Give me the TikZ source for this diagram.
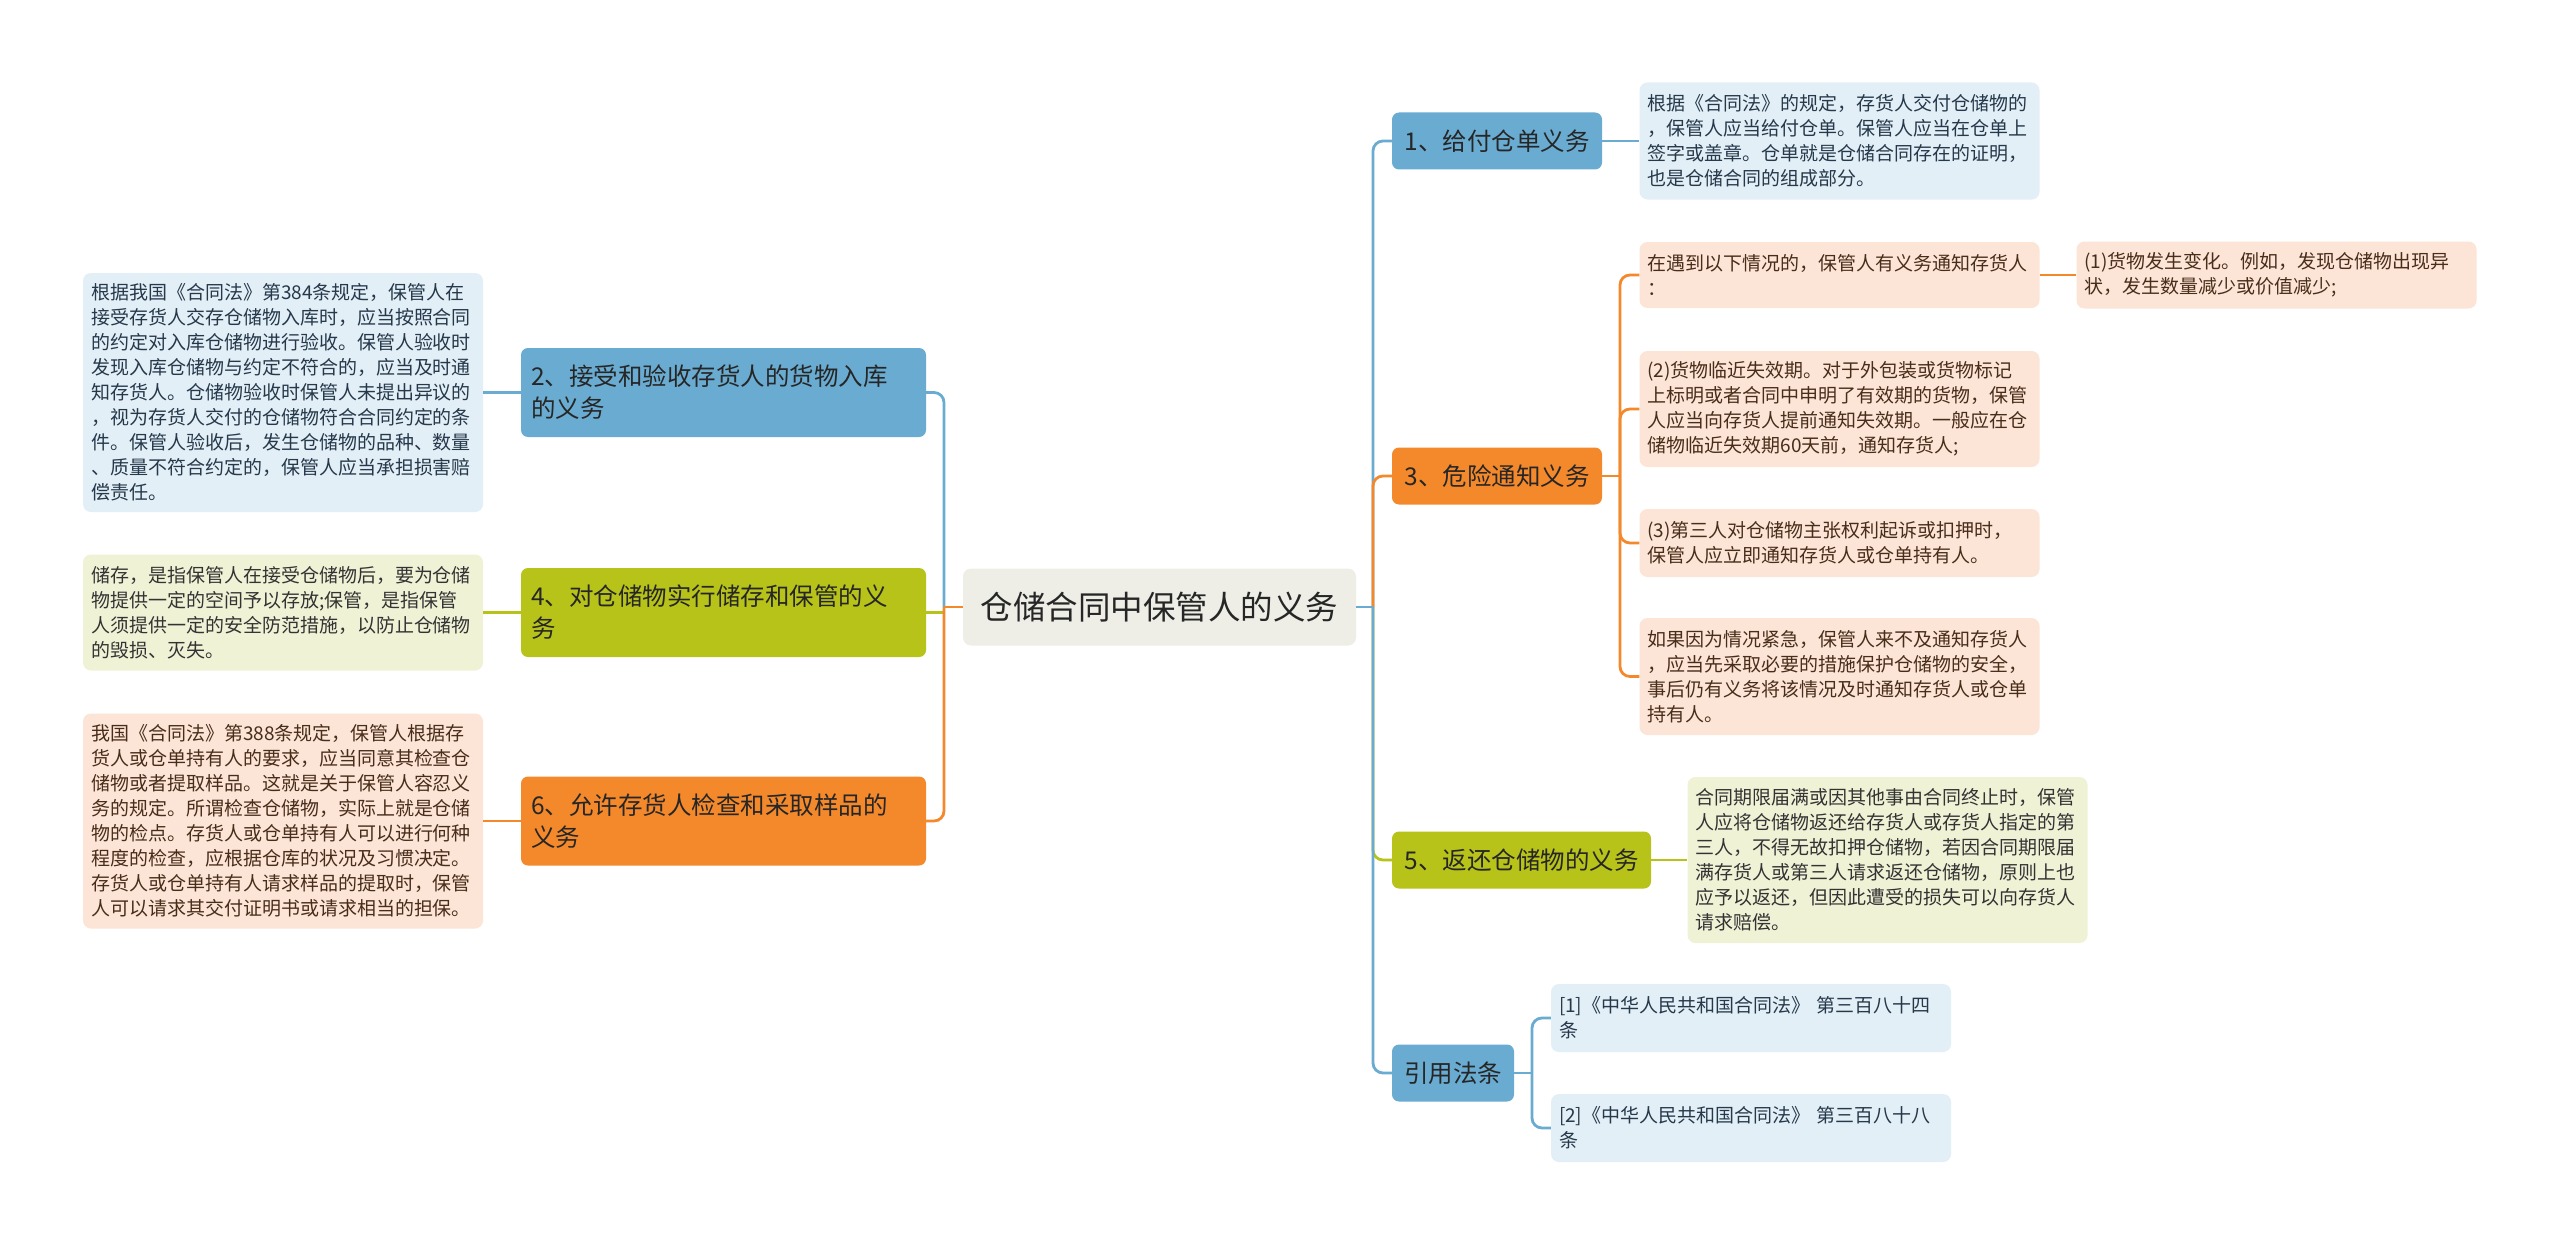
\documentclass[tikz,border=0pt]{standalone}
\usepackage{fontspec}
\setmainfont{Noto Sans CJK SC}

\definecolor{bblue}{RGB}{106,172,209}
\definecolor{borange}{RGB}{244,137,44}
\definecolor{bolive}{RGB}{184,195,26}
\definecolor{lblue}{RGB}{226,239,247}
\definecolor{lorange}{RGB}{252,229,214}
\definecolor{lolive}{RGB}{240,242,214}
\definecolor{rootgray}{RGB}{238,238,231}
\definecolor{tblue}{RGB}{38,56,74}
\definecolor{tbrown}{RGB}{72,46,26}

\tikzset{
  rootbox/.style={fill=rootgray, rounded corners=8pt, minimum width=393pt, minimum height=77pt,
    font=\fontsize{32.5}{38}\selectfont, text=black!85},
  branch/.style={rounded corners=7pt, minimum height=57pt, inner xsep=10pt,
    font=\fontsize{24.5}{32}\selectfont, text=black!85},
  branchtwo/.style={branch, text width=385pt, align=left, minimum height=89pt},
  leaf/.style={rounded corners=8pt, text width=384pt, inner xsep=8pt, align=left,
    font=\fontsize{19}{25}\selectfont},
  link/.style={line width=2.8pt},
  elbow/.style={link, rounded corners=10pt},
}

\begin{document}
\begin{tikzpicture}[x=1pt,y=-1pt]
    \fill[white] (0,0) rectangle (2560,1244);
    \useasboundingbox (0,0) rectangle (2560,1244);

    \node[rootbox] (root) at (1159.5,607) {仓储合同中保管人的义务};

    % right side
    \node[branch, fill=bblue, minimum width=210pt] (b1) at (1497,141) {1、给付仓单义务};
    \node[branch, fill=borange, minimum width=210pt] (b3) at (1497,476) {3、危险通知义务};
    \node[branch, fill=bolive, minimum width=259pt] (b5) at (1521.5,860) {5、返还仓储物的义务};
    \node[branch, fill=bblue, minimum width=122pt] (b7) at (1453,1073) {引用法条};

    \node[leaf, fill=lblue, text=tblue, minimum height=117pt] (l1) at (1839.5,141)
        {根据《合同法》的规定，存货人交付仓储物的\\，保管人应当给付仓单。保管人应当在仓单上\\签字或盖章。仓单就是仓储合同存在的证明，\\也是仓储合同的组成部分。};
    \node[leaf, fill=lorange, text=tbrown, minimum height=66pt] (l3a) at (1839.5,275)
        {在遇到以下情况的，保管人有义务通知存货人\\：};
    \node[leaf, fill=lorange, text=tbrown, minimum height=67pt] (l3a1) at (2276.5,275)
        {(1)货物发生变化。例如，发现仓储物出现异\\状，发生数量减少或价值减少;};
    \node[leaf, fill=lorange, text=tbrown, minimum height=116pt] (l3b) at (1839.5,409)
        {(2)货物临近失效期。对于外包装或货物标记\\上标明或者合同中申明了有效期的货物，保管\\人应当向存货人提前通知失效期。一般应在仓\\储物临近失效期60天前，通知存货人;};
    \node[leaf, fill=lorange, text=tbrown, minimum height=68pt] (l3c) at (1839.5,543)
        {(3)第三人对仓储物主张权利起诉或扣押时，\\保管人应立即通知存货人或仓单持有人。};
    \node[leaf, fill=lorange, text=tbrown, minimum height=117pt] (l3d) at (1839.5,676.5)
        {如果因为情况紧急，保管人来不及通知存货人\\，应当先采取必要的措施保护仓储物的安全，\\事后仍有义务将该情况及时通知存货人或仓单\\持有人。};
    \node[leaf, fill=lolive, text=black!80, minimum height=166pt] (l5) at (1887.5,860)
        {合同期限届满或因其他事由合同终止时，保管\\人应将仓储物返还给存货人或存货人指定的第\\三人，不得无故扣押仓储物，若因合同期限届\\满存货人或第三人请求返还仓储物，原则上也\\应予以返还，但因此遭受的损失可以向存货人\\请求赔偿。};
    \node[leaf, fill=lblue, text=tblue, minimum height=68pt] (r1) at (1751,1018)
        {[1]《中华人民共和国合同法》 第三百八十四\\条};
    \node[leaf, fill=lblue, text=tblue, minimum height=68pt] (r2) at (1751,1128)
        {[2]《中华人民共和国合同法》 第三百八十八\\条};

    % left side
    \node[branchtwo, fill=bblue] (b2) at (723.5,392.5) {2、接受和验收存货人的货物入库\\的义务};
    \node[branchtwo, fill=bolive] (b4) at (723.5,612.5) {4、对仓储物实行储存和保管的义\\务};
    \node[branchtwo, fill=borange] (b6) at (723.5,821) {6、允许存货人检查和采取样品的\\义务};

    \node[leaf, fill=lblue, text=tblue, minimum height=239pt] (l2) at (283,392.5)
        {根据我国《合同法》第384条规定，保管人在\\接受存货人交存仓储物入库时，应当按照合同\\的约定对入库仓储物进行验收。保管人验收时\\发现入库仓储物与约定不符合的，应当及时通\\知存货人。仓储物验收时保管人未提出异议的\\，视为存货人交付的仓储物符合合同约定的条\\件。保管人验收后，发生仓储物的品种、数量\\、质量不符合约定的，保管人应当承担损害赔\\偿责任。};
    \node[leaf, fill=lolive, text=black!80, minimum height=116pt] (l4) at (283,612.5)
        {储存，是指保管人在接受仓储物后，要为仓储\\物提供一定的空间予以存放;保管，是指保管\\人须提供一定的安全防范措施，以防止仓储物\\的毁损、灭失。};
    \node[leaf, fill=lorange, text=tbrown, minimum height=215pt] (l6) at (283,821)
        {我国《合同法》第388条规定，保管人根据存\\货人或仓单持有人的要求，应当同意其检查仓\\储物或者提取样品。这就是关于保管人容忍义\\务的规定。所谓检查仓储物，实际上就是仓储\\物的检点。存货人或仓单持有人可以进行何种\\程度的检查，应根据仓库的状况及习惯决定。\\存货人或仓单持有人请求样品的提取时，保管\\人可以请求其交付证明书或请求相当的担保。};

    % connectors
    \coordinate (rt) at (1373,607);
    \coordinate (lt) at (944,607);
    \coordinate (st3) at (1620,476);
    \coordinate (st7) at (1532,1073);

    \draw[elbow, bolive] (rt) |- (b5.west);
    \draw[elbow, bblue] (rt) |- (b7.west);
    \draw[elbow, bblue] (rt) |- (b1.west);
    \draw[elbow, borange] (rt) |- (b3.west);
    \draw[link, bblue] (root.east) -- (rt);

    \draw[link, bolive] (lt) |- (b4.east);
    \draw[elbow, bblue] (lt) |- (b2.east);
    \draw[elbow, borange] (lt) |- (b6.east);
    \draw[link, borange] (root.west) -- (lt);

    \draw[link, bblue] (b1.east) -- (l1.west);
    \draw[link, bolive] (b5.east) -- (l5.west);
    \draw[link, borange] (b3.east) -- (st3);
    \foreach \n in {l3a,l3b,l3c,l3d}
        \draw[elbow, borange] (st3) |- (\n.west);
    \draw[link, borange] (l3a.east) -- (l3a1.west);
    \draw[link, bblue] (b7.east) -- (st7);
    \foreach \n in {r1,r2}
        \draw[elbow, bblue] (st7) |- (\n.west);

    \draw[link, bblue] (b2.west) -- (l2.east);
    \draw[link, bolive] (b4.west) -- (l4.east);
    \draw[link, borange] (b6.west) -- (l6.east);
\end{tikzpicture}
\end{document}
